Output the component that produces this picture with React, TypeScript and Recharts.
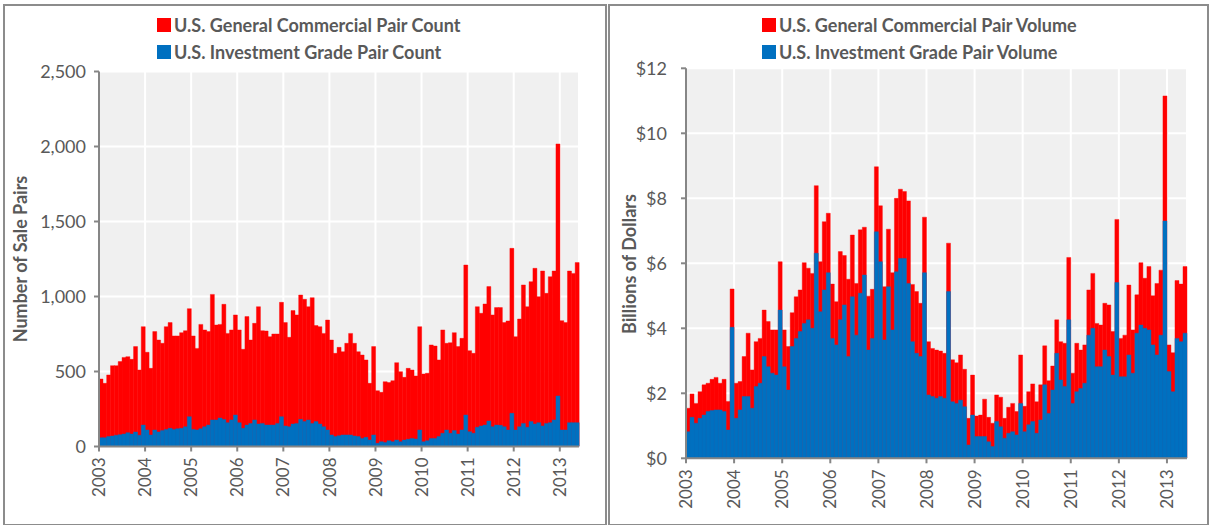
import React from 'react';
import { BarChart, Bar, XAxis, YAxis, CartesianGrid } from 'recharts';

const years = ['2003', '2004', '2005', '2006', '2007', '2008', '2009', '2010', '2011', '2012', '2013'];
const monthNames = ['Jan', 'Feb', 'Mar', 'Apr', 'May', 'Jun', 'Jul', 'Aug', 'Sep', 'Oct', 'Nov', 'Dec'];

const countGeneral = [
  450, 421, 477, 539, 539, 566, 594, 599, 581, 666, 510, 799,
  628, 521, 766, 710, 688, 799, 826, 737, 737, 759, 772, 919,
  737, 654, 814, 777, 766, 1014, 810, 814, 948, 754, 777, 877,
  777, 648, 866, 710, 821, 932, 772, 770, 732, 750, 750, 961,
  826, 728, 906, 877, 1010, 981, 932, 992, 806, 799, 754, 843,
  710, 621, 661, 632, 688, 754, 688, 632, 610, 577, 421, 666,
  372, 361, 432, 426, 439, 559, 499, 461, 521, 510, 470, 799,
  483, 488, 677, 670, 577, 777, 688, 692, 759, 666, 721, 1210,
  639, 621, 932, 888, 950, 1066, 877, 926, 926, 826, 837, 1321,
  732, 850, 1077, 932, 1099, 1188, 999, 1170, 1021, 1132, 1170, 2017,
  839, 826, 1170, 1154, 1226,
];

const countInvestment = [
  59, 59, 66, 70, 75, 79, 83, 92, 83, 97, 75, 143,
  110, 77, 110, 97, 106, 114, 121, 114, 119, 121, 132, 199,
  114, 110, 119, 132, 143, 177, 177, 190, 180, 159, 177, 210,
  159, 121, 143, 154, 177, 150, 154, 143, 143, 143, 154, 199,
  137, 132, 150, 154, 181, 166, 177, 154, 166, 150, 132, 110,
  77, 66, 72, 77, 77, 77, 70, 66, 54, 61, 43, 77,
  21, 32, 26, 39, 32, 43, 32, 43, 48, 54, 50, 110,
  32, 39, 54, 54, 66, 88, 110, 88, 106, 83, 110, 210,
  99, 88, 128, 137, 143, 170, 132, 143, 141, 132, 110, 221,
  110, 132, 154, 128, 166, 150, 159, 137, 154, 159, 177, 337,
  110, 110, 159, 159, 159,
];

const volumeGeneral = [
  1.54, 1.98, 1.69, 2.05, 2.26, 2.31, 2.43, 2.49, 2.31, 2.43, 1.75, 5.21,
  2.31, 2.36, 3.13, 3.85, 2.72, 3.59, 3.69, 4.56, 4.21, 3.95, 3.95, 6.05,
  3.95, 3.44, 4.48, 4.97, 5.18, 6.02, 5.85, 5.69, 8.39, 6.05, 7.28, 7.54,
  5.36, 4.82, 6.36, 6.24, 5.51, 6.87, 5.38, 7.03, 7.11, 4.99, 5.2, 8.97,
  7.77, 5.28, 7.05, 5.71, 8.0, 8.28, 8.21, 7.92, 5.35, 5.13, 4.77, 7.42,
  3.59, 3.38, 3.33, 3.3, 3.23, 6.62, 3.03, 2.94, 3.18, 2.74, 1.23, 2.56,
  1.3, 1.33, 1.82, 1.26, 1.08, 1.95, 1.88, 1.23, 1.57, 1.69, 1.44, 3.18,
  1.6, 2.05, 2.29, 1.74, 2.26, 3.46, 2.39, 2.84, 4.26, 3.59, 3.54, 6.18,
  2.62, 3.54, 3.33, 3.49, 5.18, 5.69, 4.15, 4.1, 4.77, 4.72, 3.9, 7.35,
  3.69, 3.79, 5.33, 3.95, 5.03, 6.02, 5.54, 5.9, 5.0, 5.38, 5.79, 11.15,
  3.49, 3.25, 5.47, 5.36, 5.9,
];

const volumeInvestment = [
  0.82, 1.26, 1.08, 1.23, 1.33, 1.44, 1.47, 1.49, 1.49, 1.44, 0.87, 4.03,
  1.23, 1.49, 1.9, 1.9, 1.54, 2.21, 2.31, 3.13, 2.82, 2.62, 2.56, 4.56,
  2.82, 2.1, 3.44, 3.69, 3.9, 4.15, 4.26, 4.0, 6.31, 4.51, 5.18, 5.71,
  3.69, 3.49, 4.26, 4.72, 3.13, 4.97, 3.79, 5.08, 5.64, 3.33, 3.69, 6.97,
  6.05, 3.64, 5.28, 3.95, 5.74, 6.15, 6.15, 5.38, 3.59, 3.23, 3.13, 5.71,
  1.95, 1.9, 1.85, 1.9, 1.85, 5.13, 1.74, 1.69, 1.79, 1.59, 0.41, 1.33,
  0.67, 0.67, 0.67, 0.51, 0.36, 1.13, 0.97, 0.62, 0.77, 0.82, 0.72, 1.69,
  0.82, 1.03, 1.13, 0.77, 1.18, 2.26, 1.38, 2.1, 3.23, 2.41, 2.21, 4.26,
  1.69, 2.05, 2.15, 2.31, 3.79, 4.0, 2.82, 2.82, 3.33, 3.13, 2.56, 5.41,
  2.51, 2.51, 3.18, 2.62, 3.85, 4.1, 4.0, 3.95, 3.49, 3.18, 3.79, 7.3,
  2.67, 2.05, 3.69, 3.59, 3.85,
];

const countTicks = [0, 500, 1000, 1500, 2000, 2500];
const volumeTicks = [0, 2, 4, 6, 8, 10, 12];
const yearTicks = years.map((_, i) => i * 12);

const months = countGeneral.map((_, i) => `${monthNames[i % 12]} ${years[Math.floor(i / 12)]}`);

const countData = months.map((m, i) => ({ month: m, idx: i + 0.5, general: countGeneral[i], invest: countInvestment[i] }));
const volumeData = months.map((m, i) => ({ month: m, idx: i + 0.5, general: volumeGeneral[i], invest: volumeInvestment[i] }));

const RED = '#ff0000';
const BLUE = '#0070c0';
const AXIS = '#868686';
const TEXT = '#595959';
const FONT = 'Lato, "Open Sans", sans-serif';

const YearTick = (props: any) => {
  const { x, y, payload } = props;
  return (
    <text
      x={0}
      y={0}
      dy="0.36em"
      textAnchor="end"
      transform={`translate(${x},${y}) rotate(-90)`}
      fill={TEXT}
      fontSize={17}
      fontFamily={FONT}
    >
      {years[Math.round(payload.value / 12)]}
    </text>
  );
};

type PanelProps = {
  data: any[];
  width: number;
  margin: { top: number; right: number; bottom: number; left: number };
  yAxisWidth: number;
  xAxisHeight: number;
  yTickMargin: number;
  domain: [number, number];
  ticks: number[];
  fmt: (v: number) => string;
  names: [string, string];
};

function Panel({ data, width, margin, yAxisWidth, xAxisHeight, yTickMargin, domain, ticks, fmt, names }: PanelProps) {
  return (
    <BarChart width={width} height={525} data={data} margin={margin} barCategoryGap={0} barGap={0}>
      <CartesianGrid xAxisId="yr" stroke="#ffffff" strokeWidth={2} fill="#f0f0f0" />
      <XAxis
        xAxisId="yr"
        type="number"
        dataKey="idx"
        domain={[0, 125]}
        allowDataOverflow
        ticks={yearTicks}
        interval={0}
        height={xAxisHeight}
        axisLine={{ stroke: AXIS, strokeWidth: 2 }}
        tickLine={{ stroke: AXIS, strokeWidth: 2 }}
        tickSize={5}
        tickMargin={6}
        tick={<YearTick />}
      />
      <XAxis xAxisId="a" dataKey="month" hide height={0} />
      <XAxis xAxisId="b" dataKey="month" hide height={0} />
      <YAxis
        width={yAxisWidth}
        domain={domain}
        ticks={ticks}
        interval={0}
        allowDataOverflow
        axisLine={{ stroke: AXIS, strokeWidth: 2 }}
        tickLine={{ stroke: AXIS, strokeWidth: 2 }}
        tickSize={5}
        tickMargin={yTickMargin}
        tickFormatter={fmt}
        tick={{ fill: TEXT, fontSize: 18, fontFamily: FONT }}
      />
      <Bar xAxisId="a" dataKey="general" name={names[0]} fill={RED} stroke={RED} strokeWidth={0.4} isAnimationActive={false} />
      <Bar xAxisId="b" dataKey="invest" name={names[1]} fill={BLUE} stroke={BLUE} strokeWidth={0.4} isAnimationActive={false} />
    </BarChart>
  );
}

function LegendBlock({ left, top, labels }: { left: number; top: number; labels: [string, string] }) {
  const colors = [RED, BLUE];
  return (
    <div style={{ position: 'absolute', left, top, fontFamily: FONT, fontWeight: 700, fontSize: 18, color: TEXT }}>
      {labels.map((l, i) => (
        <div key={l} style={{ display: 'flex', alignItems: 'center', height: 27 }}>
          <span style={{ display: 'inline-block', width: 14, height: 14, background: colors[i], marginRight: 3 }} />
          <span>{l}</span>
        </div>
      ))}
    </div>
  );
}

function YTitle({ cx, cy, text }: { cx: number; cy: number; text: string }) {
  return (
    <div
      style={{
        position: 'absolute',
        left: cx - 150,
        top: cy - 11,
        width: 300,
        height: 22,
        lineHeight: '22px',
        textAlign: 'center',
        transform: 'rotate(-90deg)',
        fontFamily: FONT,
        fontWeight: 700,
        fontSize: 18,
        color: TEXT,
      }}
    >
      {text}
    </div>
  );
}

export default function App() {
  const countNames: [string, string] = ['U.S. General Commercial Pair Count', 'U.S. Investment Grade Pair Count'];
  const volumeNames: [string, string] = ['U.S. General Commercial Pair Volume', 'U.S. Investment Grade Pair Volume'];
  return (
    <div style={{ position: 'absolute', left: 0, top: 0, width: 1209, height: 525, background: '#ffffff', overflow: 'hidden' }}>
      <div style={{ position: 'absolute', left: 3, top: 4, width: 600, height: 518, border: '2px solid #8c8c8c' }} />
      <div style={{ position: 'absolute', left: 608, top: 4, width: 597, height: 518, border: '2px solid #8c8c8c' }} />
      <div style={{ position: 'absolute', left: 0, top: 0 }}>
        <Panel
          data={countData}
          width={605}
          margin={{ top: 71.5, right: 26, bottom: 18.5, left: 0 }}
          yAxisWidth={99}
          xAxisHeight={60}
          yTickMargin={8}
          domain={[0, 2500]}
          ticks={countTicks}
          fmt={(v) => v.toLocaleString('en-US')}
          names={countNames}
        />
      </div>
      <div style={{ position: 'absolute', left: 605, top: 0 }}>
        <Panel
          data={volumeData}
          width={604}
          margin={{ top: 68.3, right: 22, bottom: 16.7, left: 0 }}
          yAxisWidth={81}
          xAxisHeight={50}
          yTickMargin={14}
          domain={[0, 12]}
          ticks={volumeTicks}
          fmt={(v) => `$${v}`}
          names={volumeNames}
        />
      </div>
      <LegendBlock left={157} top={11} labels={countNames} />
      <LegendBlock left={762} top={11} labels={volumeNames} />
      <YTitle cx={20} cy={259} text="Number of Sale Pairs" />
      <YTitle cx={629} cy={264} text="Billions of Dollars" />
    </div>
  );
}
